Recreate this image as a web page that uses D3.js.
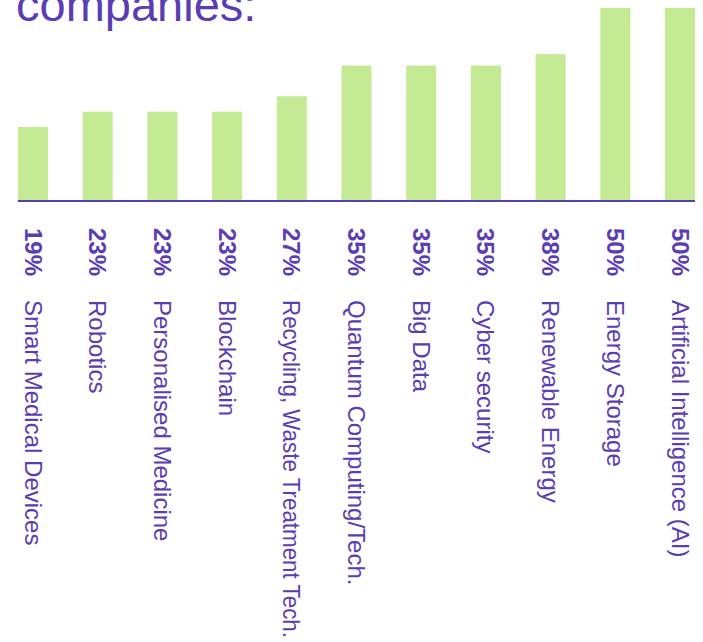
<!DOCTYPE html>
<html>
<head>
<meta charset="utf-8">
<script src="https://cdn.jsdelivr.net/npm/d3@7"></script>
<style>
  html, body { margin: 0; padding: 0; background: #ffffff; }
  svg { display: block; }
  text { font-family: "Liberation Sans", Arial, sans-serif; }
</style>
</head>
<body>
<div id="chart"></div>
<script>
const title = "companies:";
const categories = [
  "Smart Medical Devices", "Robotics", "Personalised Medicine", "Blockchain",
  "Recycling, Waste Treatment Tech.", "Quantum Computing/Tech.", "Big Data",
  "Cyber security", "Renewable Energy", "Energy Storage", "Artificial Intelligence (AI)"
];
const values = [19, 23, 23, 23, 27, 35, 35, 35, 38, 50, 50];

const W = 703, H = 642;
const purple = "#5b3db3";
const green = "#c4ea94";

const svg = d3.select("#chart").append("svg")
  .attr("width", W).attr("height", H);

svg.append("text")
  .attr("x", 16).attr("y", 21)
  .attr("font-size", 47)
  .attr("fill", purple)
  .text(title);

const x = d3.scaleBand()
  .domain(categories)
  .range([18, 695])
  .paddingInner(0.5363)
  .paddingOuter(0);

const y = d3.scaleLinear().domain([0, 50]).range([200, 8]);

svg.append("g").selectAll("rect")
  .data(categories)
  .join("rect")
  .attr("x", d => x(d))
  .attr("width", x.bandwidth())
  .attr("y", (d, i) => y(values[i]))
  .attr("height", (d, i) => y(0) - y(values[i]))
  .attr("fill", green);

svg.append("line")
  .attr("x1", x.range()[0]).attr("x2", x.range()[1])
  .attr("y1", y(0) + 1).attr("y2", y(0) + 1)
  .attr("stroke", purple).attr("stroke-width", 2);

const labels = svg.append("g").selectAll("g")
  .data(categories)
  .join("g");

labels.append("text")
  .attr("transform", d => `translate(${x(d) + x.bandwidth() / 2},228) rotate(90)`)
  .attr("dy", "0.35em")
  .attr("font-size", 24)
  .attr("font-weight", "bold")
  .attr("fill", purple)
  .text((d, i) => values[i] + "%");

const catStart = 300;
const maxLen = H - catStart - 4;
labels.append("text")
  .attr("transform", d => `translate(${x(d) + x.bandwidth() / 2},${catStart}) rotate(90)`)
  .attr("dy", "0.35em")
  .attr("font-size", 24)
  .attr("fill", purple)
  .text(d => d)
  .each(function () {
    const len = this.getComputedTextLength();
    if (len > maxLen) {
      d3.select(this).attr("textLength", maxLen).attr("lengthAdjust", "spacingAndGlyphs");
    }
  });
</script>
</body>
</html>
